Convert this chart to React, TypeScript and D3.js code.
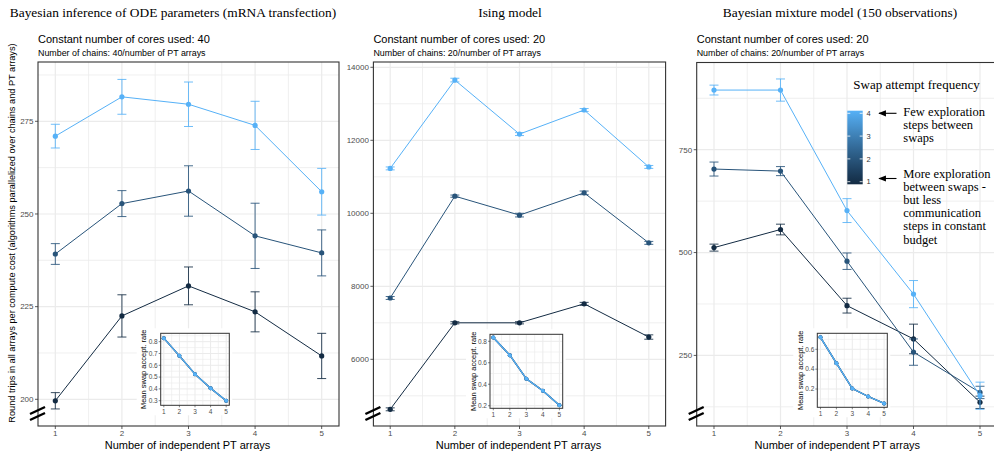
import React from "react";
import * as d3 from "d3";

// Number of independent PT arrays (x axis)
const arrayCounts = [1, 2, 3, 4, 5];
// Swap attempt frequency of each series
const swapFrequencies = [1, 2, 4];

// Bayesian inference of ODE parameters (mRNA transfection)
const odeMean1 = [199.6, 222.5, 230.6, 223.6, 211.7];
const odeErr1 = [2.2, 5.7, 5.1, 5.4, 6.1];
const odeMean2 = [239.2, 252.8, 256.2, 244.1, 239.5];
const odeErr2 = [2.8, 3.5, 6.8, 8.8, 6.2];
const odeMean4 = [271.0, 281.6, 279.6, 273.9, 256.0];
const odeErr4 = [3.2, 4.7, 6.0, 6.5, 6.3];
const odeSwapRate = [0.83, 0.68, 0.525, 0.405, 0.3];
const odeTicks = [200, 225, 250, 275];

// Ising model
const isingMean1 = [4630, 7000, 7000, 7520, 6610];
const isingErr1 = [40, 30, 30, 40, 60];
const isingMean2 = [7680, 10470, 9950, 10560, 9190];
const isingErr2 = [40, 30, 50, 50, 40];
const isingMean4 = [11230, 13650, 12170, 12830, 11270];
const isingErr4 = [40, 50, 40, 40, 40];
const isingSwapRate = [0.835, 0.67, 0.45, 0.34, 0.205];
const isingTicks = [6000, 8000, 10000, 12000, 14000];

// Bayesian mixture model (150 observations)
const mixMean1 = [512, 556, 371, 290, 136];
const mixErr1 = [8.5, 13, 18, 36, 15];
const mixMean2 = [703, 698, 479, 258, 160];
const mixErr2 = [17, 11, 20, 32, 15];
const mixMean4 = [895, 895, 602, 399, 152];
const mixErr4 = [12, 27, 29, 33, 33];
const mixSwapRate = [0.72, 0.46, 0.205, 0.125, 0.055];
const mixTicks = [250, 500, 750];

const titles = [
  "Bayesian inference of ODE parameters (mRNA transfection)",
  "Ising model",
  "Bayesian mixture model (150 observations)",
];
const coreLabels = ["Constant number of cores used: 40", "Constant number of cores used: 20", "Constant number of cores used: 20"];
const chainLabels = [
  "Number of chains: 40/number of PT arrays",
  "Number of chains: 20/number of PT arrays",
  "Number of chains: 20/number of PT arrays",
];
const yAxisTitle =
  "Round trips in all arrays per compute cost (algorithms parallelized over chains and PT arrays)";
const xAxisTitle = "Number of independent PT arrays";
const insetYTitle = "Mean swap accept. rate";
const legendTitle = "Swap attempt frequency";
const legendTicks = [1, 2, 3, 4];
const noteFew = ["Few exploration", "steps between", "swaps"];
const noteMore = ["More exploration", "between swaps -", "but less", "communication", "steps in constant", "budget"];

const freqColor = d3
  .scaleLinear<string>()
  .domain([1, 4])
  .range(["#132B43", "#56B1F7"])
  .interpolate(d3.interpolateLab);

const SANS = "'Liberation Sans', Arial, Helvetica, sans-serif";
const SERIF = "'Liberation Serif', 'Times New Roman', serif";
const GRID = "#EBEBEB";
const BORDER = "#333333";
const TICKTXT = "#4D4D4D";

type Series = { freq: number; mean: number[]; err: number[] };
type PanelCfg = {
  title: string;
  titleX: number;
  cores: string;
  chains: string;
  left: number;
  right: number;
  top: number;
  bottom: number;
  yDomain: [number, number];
  yTicks: number[];
  series: Series[];
  swapRate: number[];
  inset: { left: number; right: number; top: number; bottom: number; yDomain: [number, number]; yTicks: number[] };
};

const panels: PanelCfg[] = [
  {
    title: titles[0],
    titleX: 173,
    cores: coreLabels[0],
    chains: chainLabels[0],
    left: 38,
    right: 339,
    top: 62,
    bottom: 426,
    yDomain: [192.8, 291.0],
    yTicks: odeTicks,
    series: [
      { freq: swapFrequencies[0], mean: odeMean1, err: odeErr1 },
      { freq: swapFrequencies[1], mean: odeMean2, err: odeErr2 },
      { freq: swapFrequencies[2], mean: odeMean4, err: odeErr4 },
    ],
    swapRate: odeSwapRate,
    inset: { left: 160.7, right: 229.3, top: 333.3, bottom: 405.3, yDomain: [0.261, 0.871], yTicks: [0.3, 0.4, 0.5, 0.6, 0.7, 0.8] },
  },
  {
    title: titles[1],
    titleX: 510,
    cores: coreLabels[1],
    chains: chainLabels[1],
    left: 373.4,
    right: 665.6,
    top: 62,
    bottom: 426,
    yDomain: [4173, 14145],
    yTicks: isingTicks,
    series: [
      { freq: swapFrequencies[0], mean: isingMean1, err: isingErr1 },
      { freq: swapFrequencies[1], mean: isingMean2, err: isingErr2 },
      { freq: swapFrequencies[2], mean: isingMean4, err: isingErr4 },
    ],
    swapRate: isingSwapRate,
    inset: { left: 490, right: 562.7, top: 334.3, bottom: 408.3, yDomain: [0.176, 0.865], yTicks: [0.2, 0.4, 0.6, 0.8] },
  },
  {
    title: titles[2],
    titleX: 840,
    cores: coreLabels[2],
    chains: chainLabels[2],
    left: 696.7,
    right: 997.3,
    top: 62.5,
    bottom: 426,
    yDomain: [78.4, 962],
    yTicks: mixTicks,
    series: [
      { freq: swapFrequencies[0], mean: mixMean1, err: mixErr1 },
      { freq: swapFrequencies[1], mean: mixMean2, err: mixErr2 },
      { freq: swapFrequencies[2], mean: mixMean4, err: mixErr4 },
    ],
    swapRate: mixSwapRate,
    inset: { left: 817.3, right: 887.3, top: 333.3, bottom: 407.3, yDomain: [0.016, 0.761], yTicks: [0.2, 0.4, 0.6] },
  },
];

function minorTicks(major: number[], domain: [number, number]): number[] {
  const step = major[1] - major[0];
  const out: number[] = [];
  const start = major[0] - step * 4;
  for (let v = start + step / 2; v < domain[1] + step; v += step) {
    if (v > domain[0] && v < domain[1]) out.push(v);
  }
  return out;
}

function Inset({ cfg }: { cfg: PanelCfg }) {
  const b = cfg.inset;
  const x = d3.scaleLinear().domain([0.8, 5.2]).range([b.left, b.right]);
  const y = d3.scaleLinear().domain(b.yDomain).range([b.bottom, b.top]);
  const line = d3
    .line<number>()
    .x((_, i) => x(arrayCounts[i]))
    .y((d) => y(d));
  const yMinor = minorTicks(b.yTicks, b.yDomain);
  const xMinor = [1.5, 2.5, 3.5, 4.5];
  return (
    <g>
      <rect x={b.left - 24} y={b.top - 5} width={b.right - b.left + 27} height={b.bottom - b.top + 15} fill="#fff" />
      {yMinor.map((v) => (
        <line key={"ym" + v} x1={b.left} x2={b.right} y1={y(v)} y2={y(v)} stroke={GRID} strokeWidth={0.6} />
      ))}
      {xMinor.map((v) => (
        <line key={"xm" + v} x1={x(v)} x2={x(v)} y1={b.top} y2={b.bottom} stroke={GRID} strokeWidth={0.6} />
      ))}
      {b.yTicks.map((v) => (
        <line key={"yg" + v} x1={b.left} x2={b.right} y1={y(v)} y2={y(v)} stroke={GRID} strokeWidth={1} />
      ))}
      {arrayCounts.map((v) => (
        <line key={"xg" + v} x1={x(v)} x2={x(v)} y1={b.top} y2={b.bottom} stroke={GRID} strokeWidth={1} />
      ))}
      {cfg.series.map((s) => (
        <g key={"is" + s.freq}>
          <path d={line(cfg.swapRate) || ""} fill="none" stroke={freqColor(s.freq)} strokeWidth={1.3} />
          {cfg.swapRate.map((v, i) => (
            <circle key={i} cx={x(arrayCounts[i])} cy={y(v)} r={2} fill={freqColor(s.freq)} />
          ))}
        </g>
      ))}
      <rect x={b.left} y={b.top} width={b.right - b.left} height={b.bottom - b.top} fill="none" stroke={BORDER} strokeWidth={1} />
      {b.yTicks.map((v) => (
        <g key={"yt" + v}>
          <line x1={b.left - 2} x2={b.left} y1={y(v)} y2={y(v)} stroke={BORDER} strokeWidth={0.6} />
          <text x={b.left - 3} y={y(v)} dy="0.35em" textAnchor="end" fontSize={6.5} fill={TICKTXT} fontFamily={SANS}>
            {d3.format(".1f")(v)}
          </text>
        </g>
      ))}
      {arrayCounts.map((v) => (
        <g key={"xt" + v}>
          <line x1={x(v)} x2={x(v)} y1={b.bottom} y2={b.bottom + 2} stroke={BORDER} strokeWidth={0.6} />
          <text x={x(v)} y={b.bottom + 8.5} textAnchor="middle" fontSize={6.5} fill={TICKTXT} fontFamily={SANS}>
            {v}
          </text>
        </g>
      ))}
      <text
        transform={`translate(${b.left - 17},${(b.top + b.bottom) / 2}) rotate(-90)`}
        textAnchor="middle"
        dy="0.35em"
        fontSize={7.5}
        fill="#000"
        fontFamily={SANS}
      >
        {insetYTitle}
      </text>
    </g>
  );
}

function BreakMark({ cx, cy }: { cx: number; cy: number }) {
  return (
    <g stroke="#000" strokeWidth={2.4}>
      <line x1={cx - 8} y1={cy + 1} x2={cx + 7} y2={cy - 6} />
      <line x1={cx - 8} y1={cy + 7} x2={cx + 7} y2={cy} />
    </g>
  );
}

function Panel({ cfg, index }: { cfg: PanelCfg; index: number }) {
  const x = d3.scaleLinear().domain([0.74, 5.26]).range([cfg.left, cfg.right]);
  const y = d3.scaleLinear().domain(cfg.yDomain).range([cfg.bottom, cfg.top]);
  const yMinor = minorTicks(cfg.yTicks, cfg.yDomain);
  const xMinor = [1.5, 2.5, 3.5, 4.5];
  const line = d3
    .line<number>()
    .x((_, i) => x(arrayCounts[i]))
    .y((d) => y(d));
  const clipId = "clip" + index;
  return (
    <g>
      <text x={cfg.titleX} y={12} dy="0.35em" textAnchor="middle" fontSize={13.4} fontFamily={SERIF} fill="#000">
        {cfg.title}
      </text>
      <text x={cfg.left} y={39} dy="0.35em" fontSize={11} fontFamily={SANS} fill="#000">
        {cfg.cores}
      </text>
      <text x={cfg.left} y={52.5} dy="0.35em" fontSize={8.9} fontFamily={SANS} fill="#000">
        {cfg.chains}
      </text>
      <clipPath id={clipId}>
        <rect x={cfg.left} y={cfg.top} width={cfg.right - cfg.left} height={cfg.bottom - cfg.top} />
      </clipPath>
      <rect x={cfg.left} y={cfg.top} width={cfg.right - cfg.left} height={cfg.bottom - cfg.top} fill="#fff" />
      {yMinor.map((v) => (
        <line key={"ym" + v} x1={cfg.left} x2={cfg.right} y1={y(v)} y2={y(v)} stroke={GRID} strokeWidth={0.8} />
      ))}
      {xMinor.map((v) => (
        <line key={"xm" + v} x1={x(v)} x2={x(v)} y1={cfg.top} y2={cfg.bottom} stroke={GRID} strokeWidth={0.8} />
      ))}
      {cfg.yTicks.map((v) => (
        <line key={"yg" + v} x1={cfg.left} x2={cfg.right} y1={y(v)} y2={y(v)} stroke={GRID} strokeWidth={1.2} />
      ))}
      {arrayCounts.map((v) => (
        <line key={"xg" + v} x1={x(v)} x2={x(v)} y1={cfg.top} y2={cfg.bottom} stroke={GRID} strokeWidth={1.2} />
      ))}
      <g clipPath={`url(#${clipId})`}>
        {cfg.series.map((s) => {
          const c = freqColor(s.freq);
          return (
            <g key={"s" + s.freq}>
              <path d={line(s.mean) || ""} fill="none" stroke={c} strokeWidth={1} />
              {s.mean.map((m, i) => {
                const cx = x(arrayCounts[i]);
                const lo = y(m - s.err[i]);
                const hi = y(m + s.err[i]);
                return (
                  <g key={i} stroke={c} strokeOpacity={0.85} strokeWidth={1}>
                    <line x1={cx} x2={cx} y1={lo} y2={hi} />
                    <line x1={cx - 4.5} x2={cx + 4.5} y1={lo} y2={lo} />
                    <line x1={cx - 4.5} x2={cx + 4.5} y1={hi} y2={hi} />
                  </g>
                );
              })}
              {s.mean.map((m, i) => (
                <circle key={"p" + i} cx={x(arrayCounts[i])} cy={y(m)} r={2.6} fill={c} />
              ))}
            </g>
          );
        })}
      </g>
      <Inset cfg={cfg} />
      <rect x={cfg.left} y={cfg.top} width={cfg.right - cfg.left} height={cfg.bottom - cfg.top} fill="none" stroke={BORDER} strokeWidth={1.1} />
      {cfg.yTicks.map((v) => (
        <g key={"yt" + v}>
          <line x1={cfg.left - 3} x2={cfg.left} y1={y(v)} y2={y(v)} stroke={BORDER} strokeWidth={0.8} />
          <text x={cfg.left - 4.5} y={y(v)} dy="0.35em" textAnchor="end" fontSize={8} fill={TICKTXT} fontFamily={SANS}>
            {v}
          </text>
        </g>
      ))}
      {arrayCounts.map((v) => (
        <g key={"xt" + v}>
          <line x1={x(v)} x2={x(v)} y1={cfg.bottom} y2={cfg.bottom + 3} stroke={BORDER} strokeWidth={0.8} />
          <text x={x(v)} y={cfg.bottom + 10} textAnchor="middle" fontSize={8} fill={TICKTXT} fontFamily={SANS}>
            {v}
          </text>
        </g>
      ))}
      <text x={(cfg.left + Math.min(cfg.right, 980)) / 2 - 1} y={445} dy="0.35em" textAnchor="middle" fontSize={11} fontFamily={SANS} fill="#000">
        {xAxisTitle}
      </text>
      <BreakMark cx={cfg.left} cy={413} />
    </g>
  );
}

function Legend() {
  const barX = 847.3;
  const barW = 15.4;
  const ly = d3.scaleLinear().domain([1, 4]).range([181.7, 113.3]);
  const stops = d3.range(0, 1.0001, 0.1);
  return (
    <g>
      <defs>
        <linearGradient id="freqGrad" x1="0" y1="1" x2="0" y2="0">
          {stops.map((t) => (
            <stop key={t} offset={t} stopColor={freqColor(1 + 3 * t)} />
          ))}
        </linearGradient>
        <marker id="arrowHead" viewBox="0 0 10 10" refX="9" refY="5" markerWidth="7" markerHeight="7" orient="auto-start-reverse">
          <path d="M0,1 L10,5 L0,9 z" fill="#000" />
        </marker>
      </defs>
      <text x={916.5} y={84} dy="0.35em" textAnchor="middle" fontSize={13} fontFamily={SERIF} fill="#000">
        {legendTitle}
      </text>
      <rect x={barX} y={ly(4) - 2.6} width={barW} height={ly(1) - ly(4) + 5.2} fill="url(#freqGrad)" />
      {legendTicks.map((v) => (
        <g key={v}>
          <line x1={barX} x2={barX + 3} y1={ly(v)} y2={ly(v)} stroke="#fff" strokeWidth={0.8} />
          <line x1={barX + barW - 3} x2={barX + barW} y1={ly(v)} y2={ly(v)} stroke="#fff" strokeWidth={0.8} />
          <text x={866.5} y={ly(v)} dy="0.35em" fontSize={7.5} fill="#333" fontFamily={SANS}>
            {v}
          </text>
        </g>
      ))}
      <line x1={896.5} y1={ly(4)} x2={879} y2={ly(4)} stroke="#000" strokeWidth={1.1} markerEnd="url(#arrowHead)" />
      <line x1={896.5} y1={178.5} x2={879} y2={178.5} stroke="#000" strokeWidth={1.1} markerEnd="url(#arrowHead)" />
      {noteFew.map((t, i) => (
        <text key={t} x={903.3} y={111.7 + i * 13.1} dy="0.35em" fontSize={12.5} fontFamily={SERIF} fill="#000">
          {t}
        </text>
      ))}
      {noteMore.map((t, i) => (
        <text key={t} x={903.3} y={173.3 + i * 13.2} dy="0.35em" fontSize={12.5} fontFamily={SERIF} fill="#000">
          {t}
        </text>
      ))}
    </g>
  );
}

export default function App() {
  return (
    <svg
      width={994}
      height={452}
      viewBox="0 0 994 452"
      style={{ position: "absolute", left: 0, top: 0, background: "#fff" }}
    >
      <rect width={994} height={452} fill="#fff" />
      {panels.map((p, i) => (
        <Panel key={i} cfg={p} index={i} />
      ))}
      <text
        transform={`translate(12,233) rotate(-90)`}
        textAnchor="middle"
        dy="0.35em"
        fontSize={9.2}
        fontFamily={SANS}
        fill="#000"
      >
        {yAxisTitle}
      </text>
      <Legend />
    </svg>
  );
}
